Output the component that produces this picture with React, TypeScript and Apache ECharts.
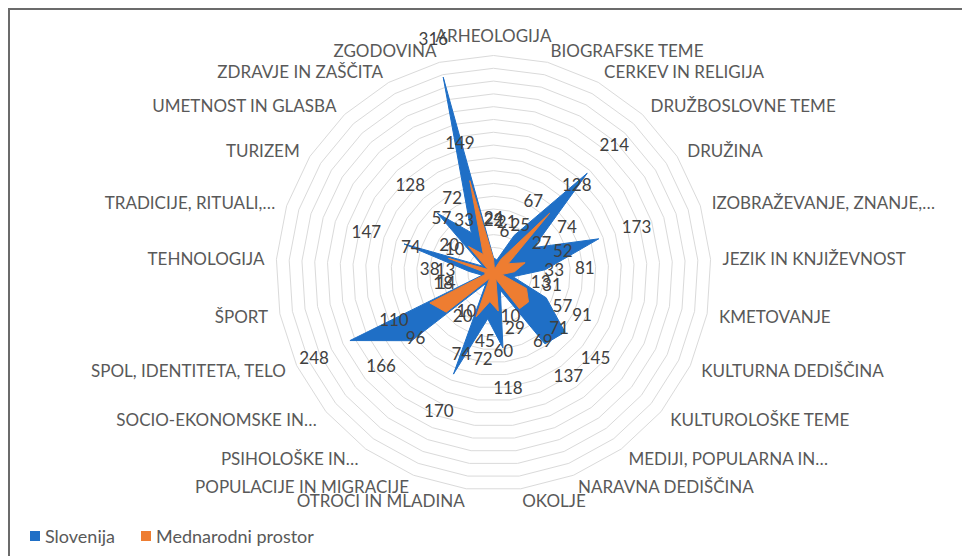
import React, { useEffect, useRef } from "react";
import * as echarts from "echarts";

// Categories in clockwise order starting at the top
const categories = [
  "ARHEOLOGIJA",
  "BIOGRAFSKE TEME",
  "CERKEV IN RELIGIJA",
  "DRUŽBOSLOVNE TEME",
  "DRUŽINA",
  "IZOBRAŽEVANJE, ZNANJE,…",
  "JEZIK IN KNJIŽEVNOST",
  "KMETOVANJE",
  "KULTURNA DEDIŠČINA",
  "KULTUROLOŠKE TEME",
  "MEDIJI, POPULARNA IN…",
  "NARAVNA DEDIŠČINA",
  "OKOLJE",
  "OTROCI IN MLADINA",
  "POPULACIJE IN MIGRACIJE",
  "PSIHOLOŠKE IN…",
  "SOCIO-EKONOMSKE IN…",
  "SPOL, IDENTITETA, TELO",
  "ŠPORT",
  "TEHNOLOGIJA",
  "TRADICIJE, RITUALI,…",
  "TURIZEM",
  "UMETNOST IN GLASBA",
  "ZDRAVJE IN ZAŠČITA",
  "ZGODOVINA",
];

const slovenija = [24, 21, 67, 214, 74, 173, 81, 31, 91, 145, 137, 29, 118, 72, 170, 20, 166, 248, 18, 38, 147, 20, 128, 72, 316];
const mednarodni = [22, 6, 25, 128, 27, 52, 33, 13, 57, 71, 69, 10, 60, 45, 74, 10, 96, 110, 14, 13, 74, 10, 57, 33, 149];

const seriesNames = ["Slovenija", "Mednarodni prostor"];
const seriesColors = ["#1f6fc6", "#ee7d31"];

const AXIS_MAX = 340;
const SPLITS = 17;
// labels sit a little outside their points (as in the reference)
const LABEL_SHIFT = 62;

export default function App() {
  const ref = useRef<HTMLDivElement>(null);

  useEffect(() => {
    if (!ref.current) return;
    const chart = echarts.init(ref.current, null, { renderer: "svg" });
    const n = categories.length;
    // ECharts radar runs counter-clockwise; reorder so the result reads clockwise
    const order = categories.map((_, i) => (i === 0 ? 0 : n - i));
    const reorder = <T,>(arr: T[]): T[] => order.map((i) => arr[i]);

    const font = "Lato, 'Open Sans', sans-serif";
    const indicator = reorder(categories).map((name) => ({ name, min: 0, max: AXIS_MAX }));
    const values = [slovenija, mednarodni];

    const mainSeries = values.map((vals, k) => ({
      type: "radar",
      name: seriesNames[k],
      symbol: "none",
      silent: true,
      z: 2 + k,
      itemStyle: { color: seriesColors[k] },
      lineStyle: { color: seriesColors[k], width: 1 },
      areaStyle: { color: seriesColors[k], opacity: 1 },
      data: [{ value: reorder(vals), name: seriesNames[k] }],
    }));

    const labelSeries = {
      type: "radar",
      name: "labels",
      symbol: "circle",
      symbolSize: 0.1,
      silent: true,
      z: 10,
      itemStyle: { color: "rgba(0,0,0,0)" },
      lineStyle: { width: 0, opacity: 0 },
      label: {
        show: true,
        position: "inside",
        color: "#404040",
        fontSize: 17,
        fontFamily: font,
        formatter: (p: any) => {
          const v = Array.isArray(p.value) ? p.value[0] : p.value;
          return String(Math.round(v - LABEL_SHIFT));
        },
      },
      data: values.map((vals, k) => ({
        name: seriesNames[k] + " oznake",
        value: reorder(vals).map((v) => v + LABEL_SHIFT),
      })),
    };

    chart.setOption({
      animation: false,
      backgroundColor: "#ffffff",
      textStyle: { fontFamily: font },
      legend: {
        data: seriesNames,
        left: 15,
        top: 512,
        icon: "rect",
        itemWidth: 10,
        itemHeight: 10,
        itemGap: 26,
        selectedMode: false,
        textStyle: { color: "#595959", fontSize: 18, fontFamily: font },
      },
      radar: {
        center: [483.5, 263],
        radius: 217.5,
        startAngle: 90,
        splitNumber: SPLITS,
        nameGap: 12,
        indicator,
        axisName: { color: "#595959", fontSize: 17, fontFamily: font },
        splitLine: { lineStyle: { color: "#dadada", width: 1 } },
        splitArea: { show: false },
        axisLine: { show: false },
        axisTick: { show: false },
        axisLabel: { show: false },
      },
      series: [...mainSeries, labelSeries],
    });

    return () => chart.dispose();
  }, []);

  return (
    <div
      style={{
        width: 962,
        height: 548,
        boxSizing: "border-box",
        borderTop: "2px solid #6b6b6b",
        borderLeft: "2px solid #6b6b6b",
        background: "#fff",
      }}
    >
      <div ref={ref} style={{ width: 960, height: 546 }} />
    </div>
  );
}
